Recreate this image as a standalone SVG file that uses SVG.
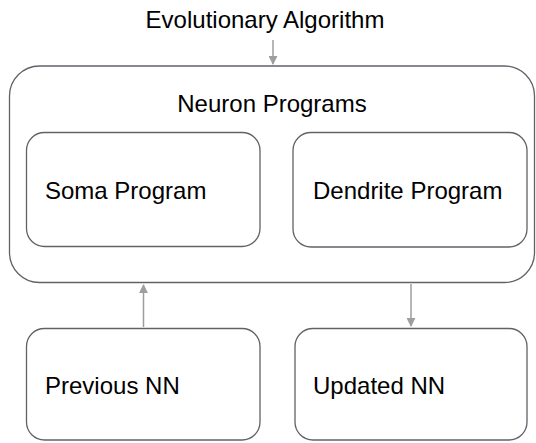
<svg xmlns="http://www.w3.org/2000/svg" width="536" height="443" viewBox="0 0 536 443">
<style>
.box{fill:#fff;stroke:#5f6368;stroke-width:1.3}
.t{font-family:"Liberation Sans",Arial,sans-serif;font-size:24px;fill:#000}
.c{stroke:#9e9e9e;stroke-width:1.5;fill:none}
</style>
<defs>
<marker id="ah" viewBox="0 0 10 10" refX="9" refY="5" markerWidth="6" markerHeight="6" orient="auto" markerUnits="strokeWidth">
<path d="M0,0 L10,5 L0,10 z" fill="#9e9e9e"/>
</marker>
</defs>
<rect width="536" height="443" fill="#fff"/>
<g id="ea"><text class="t" x="265" y="28" text-anchor="middle">Evolutionary Algorithm</text></g>
<g id="neuron-programs">
<rect class="box" x="9.5" y="66" width="525" height="216.5" rx="30"/>
<text class="t" x="272" y="112" text-anchor="middle">Neuron Programs</text>
</g>
<g id="soma"><rect class="box" x="26.5" y="132.5" width="233.5" height="114" rx="18"/>
<text class="t" x="45" y="199">Soma Program</text></g>
<g id="dendrite"><rect class="box" x="293" y="132.5" width="234" height="114.5" rx="18"/>
<text class="t" x="313" y="199">Dendrite Program</text></g>
<g id="previous"><rect class="box" x="26.5" y="328.5" width="233.5" height="111.5" rx="18"/>
<text class="t" x="45" y="394">Previous NN</text></g>
<g id="updated"><rect class="box" x="295" y="328.5" width="232" height="111.5" rx="18"/>
<text class="t" x="313" y="394">Updated NN</text></g>
<g id="connectors">
<line class="c" x1="273" y1="40" x2="273" y2="64" marker-end="url(#ah)"/>
<line class="c" x1="143.5" y1="327" x2="143.5" y2="285" marker-end="url(#ah)"/>
<line class="c" x1="411" y1="284" x2="411" y2="326" marker-end="url(#ah)"/>
</g>
</svg>
